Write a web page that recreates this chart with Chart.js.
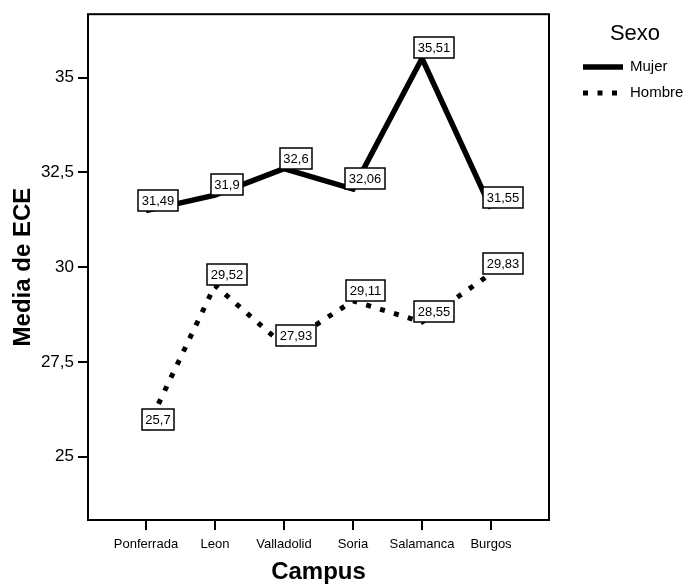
<!DOCTYPE html>
<html>
<head>
<meta charset="utf-8">
<script src="https://cdn.jsdelivr.net/npm/chart.js@4/dist/chart.umd.min.js"></script>
<style>
  html, body { margin: 0; padding: 0; background: #fff; }
  #wrap { width: 694px; height: 588px; }
</style>
</head>
<body>
<div id="wrap"><canvas id="c" width="694" height="588"></canvas></div>
<script>
// Mean ECE score per campus, split by sex
const campus = ['Ponferrada', 'Leon', 'Valladolid', 'Soria', 'Salamanca', 'Burgos'];
const mujer  = [31.49, 31.9, 32.6, 32.06, 35.51, 31.55];
const hombre = [25.7, 29.52, 27.93, 29.11, 28.55, 29.83];
const yTicks = [25, 27.5, 30, 32.5, 35];
const seriesNames = ['Mujer', 'Hombre'];
const legendTitle = 'Sexo';

const FONT = '"Liberation Sans", Arial, Helvetica, sans-serif';
const fmt = v => String(v).replace('.', ',');
const toPoints = arr => arr.map((v, i) => ({ x: i, y: v }));

// Rectangle around the plotting area
const frame = {
  id: 'frame',
  afterDraw(chart) {
    const { ctx, chartArea: a } = chart;
    ctx.save();
    ctx.strokeStyle = '#000';
    ctx.lineWidth = 2;
    ctx.strokeRect(a.left, a.top, a.right - a.left, a.bottom - a.top);
    ctx.restore();
  }
};

// Boxed value labels sitting just above-right of each point
const valueBoxes = {
  id: 'valueBoxes',
  afterDatasetsDraw(chart) {
    const ctx = chart.ctx;
    ctx.save();
    ctx.font = '13px ' + FONT;
    ctx.textAlign = 'center';
    ctx.textBaseline = 'middle';
    chart.data.datasets.forEach((ds, di) => {
      const meta = chart.getDatasetMeta(di);
      meta.data.forEach((pt, i) => {
        const txt = fmt(ds.data[i].y);
        const w = Math.round(ctx.measureText(txt).width + 7);
        const h = 21;
        const left = Math.round(pt.x + 12 - w / 2);
        const top = Math.round(pt.y - h);
        ctx.fillStyle = '#fff';
        ctx.fillRect(left, top, w, h);
        ctx.lineWidth = 1.5;
        ctx.strokeStyle = '#000';
        ctx.strokeRect(left, top, w, h);
        ctx.fillStyle = '#000';
        ctx.fillText(txt, left + w / 2, top + h / 2 + 1);
      });
    });
    ctx.restore();
  }
};

// Legend on the right with title and line samples
const sideLegend = {
  id: 'sideLegend',
  afterDraw(chart) {
    const ctx = chart.ctx;
    ctx.save();
    ctx.fillStyle = '#000';
    ctx.font = '22px ' + FONT;
    ctx.textAlign = 'center';
    ctx.textBaseline = 'middle';
    ctx.fillText(legendTitle, 635, 34);
    const rows = [67, 93];
    chart.data.datasets.forEach((ds, i) => {
      const y = rows[i];
      ctx.beginPath();
      ctx.strokeStyle = ds.borderColor;
      ctx.lineWidth = ds.borderDash ? 5 : ds.borderWidth;
      ctx.lineCap = 'butt';
      ctx.setLineDash(ds.borderDash || []);
      ctx.moveTo(583, y);
      ctx.lineTo(ds.borderDash ? 620 : 623, y);
      ctx.stroke();
      ctx.setLineDash([]);
      ctx.font = '15px ' + FONT;
      ctx.textAlign = 'left';
      ctx.fillText(ds.label, 630, y);
    });
    ctx.restore();
  }
};

new Chart(document.getElementById('c'), {
  type: 'line',
  data: {
    datasets: [
      {
        label: seriesNames[0],
        data: toPoints(mujer),
        borderColor: '#000',
        borderWidth: 5.5,
        borderJoinStyle: 'miter',
        borderCapStyle: 'butt',
        pointRadius: 0,
        tension: 0,
        fill: false
      },
      {
        label: seriesNames[1],
        data: toPoints(hombre),
        borderColor: '#000',
        borderWidth: 5,
        borderDash: [5, 9.5],
        borderCapStyle: 'butt',
        pointRadius: 0,
        tension: 0,
        fill: false
      }
    ]
  },
  options: {
    responsive: false,
    animation: false,
    devicePixelRatio: 1,
    layout: { padding: { top: 10, right: 145, bottom: 0, left: 0 } },
    plugins: {
      legend: { display: false },
      tooltip: { enabled: false }
    },
    scales: {
      x: {
        type: 'linear',
        min: -0.84,
        max: 5.84,
        afterBuildTicks: s => { s.ticks = campus.map((_, i) => ({ value: i })); },
        afterFit: s => { s.height = 68; },
        border: { display: false },
        grid: { display: true, drawOnChartArea: false, drawTicks: true, tickLength: 10, lineWidth: 2, color: '#000' },
        ticks: {
          autoSkip: false, maxRotation: 0, padding: 7,
          color: '#000', font: { family: FONT, size: 13 },
          callback: v => campus[v]
        },
        title: {
          display: true, text: 'Campus', color: '#000',
          font: { family: FONT, size: 24, weight: 'bold' },
          padding: { top: 0, bottom: 1 }
        }
      },
      y: {
        type: 'linear',
        min: 23.325,
        max: 36.675,
        afterBuildTicks: s => { s.ticks = yTicks.map(v => ({ value: v })); },
        afterFit: s => { s.width = 88; },
        border: { display: false },
        grid: { display: true, drawOnChartArea: false, drawTicks: true, tickLength: 10, lineWidth: 2, color: '#000' },
        ticks: {
          padding: 4, color: '#000', font: { family: FONT, size: 17 },
          callback: v => fmt(v)
        },
        title: {
          display: true, text: 'Media de ECE', color: '#000',
          font: { family: FONT, size: 24, weight: 'bold' },
          padding: { top: 9, bottom: 0 }
        }
      }
    }
  },
  plugins: [frame, valueBoxes, sideLegend]
});
</script>
</body>
</html>
